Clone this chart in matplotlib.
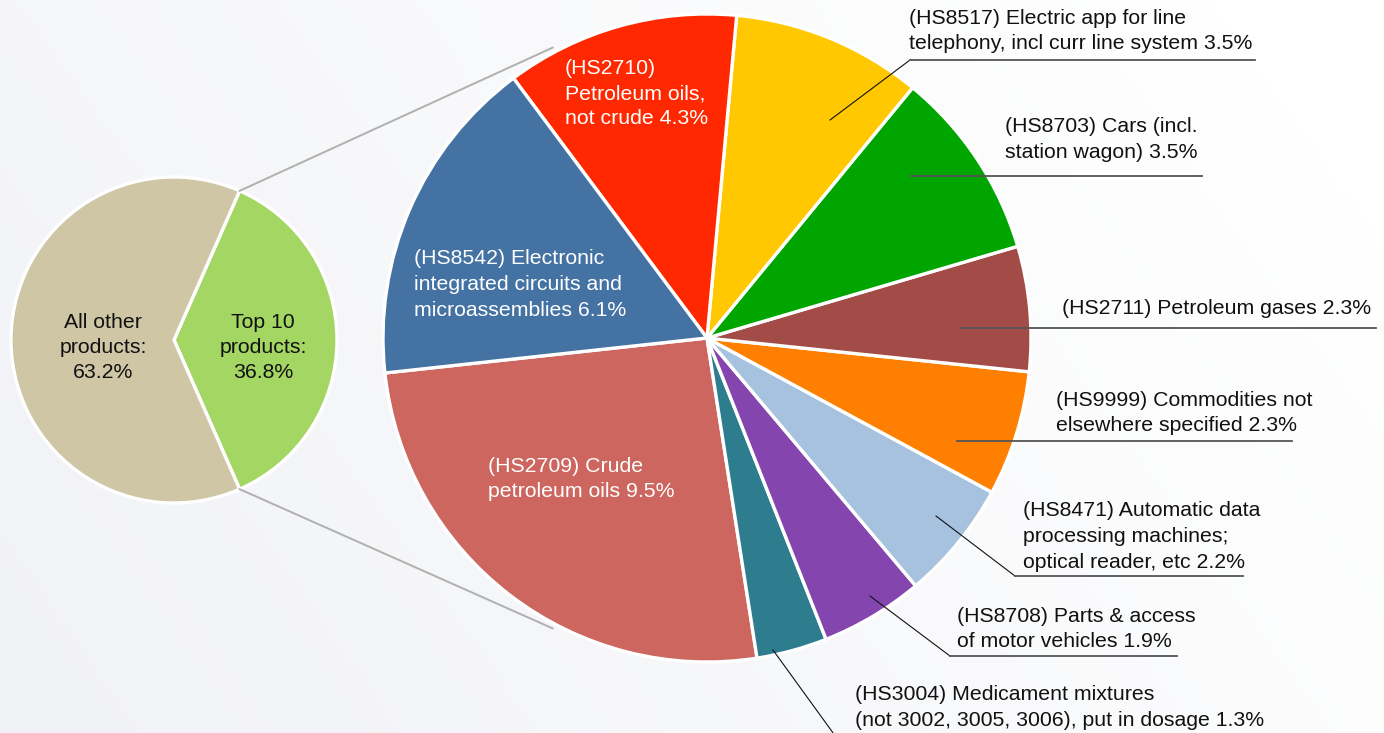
import numpy as np
import matplotlib
matplotlib.use("Agg")
import matplotlib.pyplot as plt
from matplotlib.colors import to_rgb

plt.rcParams["font.family"] = ["Liberation Sans", "DejaVu Sans"]

# --- data ---
split_labels = ["Top 10\nproducts:\n36.8%", "All other\nproducts:\n63.2%"]
split_values = [36.8, 63.2]
split_colors = ["#a3d663", "#cfc6a6"]

codes = ["HS2709", "HS3004", "HS8708", "HS8471", "HS9999",
         "HS2711", "HS8703", "HS8517", "HS2710", "HS8542"]
names = [
    "Crude\npetroleum oils",
    "Medicament mixtures\n(not 3002, 3005, 3006), put in dosage",
    "Parts & access\nof motor vehicles",
    "Automatic data\nprocessing machines;\noptical reader, etc",
    "Commodities not\nelsewhere specified",
    "Petroleum gases",
    "Cars (incl.\nstation wagon)",
    "Electric app for line\ntelephony, incl curr line system",
    "\nPetroleum oils,\nnot crude",
    "Electronic\nintegrated circuits and\nmicroassemblies",
]
shares = [9.5, 1.3, 1.9, 2.2, 2.3, 2.3, 3.5, 3.5, 4.3, 6.1]
colors = ["#cc665f", "#2e7d8f", "#8446ae", "#a7c2df", "#ff7f00",
          "#a34b47", "#00a500", "#ffc800", "#ff2800", "#4472a3"]

W, H = 1384, 733
FS = 15.3
PITCH = 25.5

# label layout in image pixels (y down)
inside_pos = {"HS2709": (488, 466), "HS2710": (565, 68), "HS8542": (414, 259)}
outside_pos = {
    # code: (text x, first line y, underline y, underline x0, underline x1, anchor)
    "HS8517": (909, 18, 60, 910, 1255, (830, 120)),
    "HS8703": (1005, 127, 176, 911, 1202, (911, 176)),
    "HS2711": (1062, 309, 328, 960, 1376, (960, 328)),
    "HS9999": (1056, 400, 441, 957, 1292, (957, 441)),
    "HS8471": (1023, 511, 576, 1015, 1243, (936, 516)),
    "HS8708": (957, 616, 656, 950, 1177, (870, 596)),
    "HS3004": (855, 695, 737, 836, 1280, (773, 650)),
}


def yy(y):
    return H - y


def put_lines(ax, text, x, y0, color, ha="left"):
    for i, line in enumerate(text.split("\n")):
        ax.text(x, yy(y0 + i * PITCH), line, ha=ha, va="center",
                fontsize=FS, color=color, zorder=5)


def label_text(code, name, share):
    if name.startswith("\n"):
        return f"({code}){name} {share}%"
    return f"({code}) {name} {share}%"


fig = plt.figure(figsize=(W / 100, H / 100), dpi=100)
ax = fig.add_axes([0, 0, 1, 1])

# background gradient
gx, gy = np.meshgrid(np.linspace(0, 1, 200), np.linspace(0, 1, 100))
t = np.clip(0.8 * gx + 0.3 * gy, 0, 1)[..., None]
c0, c1 = np.array(to_rgb("#f1f2f6")), np.array(to_rgb("#ffffff"))
ax.imshow(c0 + (c1 - c0) * t, extent=(0, W, 0, H), origin="lower",
          aspect="auto", zorder=0)

# small pie
small_c, small_r = (174, yy(340)), 163
half = split_values[0] / sum(split_values) * 180
ax.pie(split_values, colors=split_colors, center=small_c, radius=small_r,
       startangle=-half, wedgeprops=dict(edgecolor="white", linewidth=2.4))
for txt, x in zip(split_labels, [263, 103]):
    put_lines(ax, txt, x, 322, "#111111", ha="center")

# big pie
big_c, big_r = (707, yy(338)), 324
ax.pie(shares, colors=colors, center=big_c, radius=big_r, startangle=186.2,
       wedgeprops=dict(edgecolor="white", linewidth=2.4))

# connecting lines
for a_small, a_big in [(half, 118), (-half, 242)]:
    p0 = (small_c[0] + small_r * np.cos(np.radians(a_small)),
          small_c[1] + small_r * np.sin(np.radians(a_small)))
    p1 = (big_c[0] + 1.015 * big_r * np.cos(np.radians(a_big)),
          big_c[1] + 1.015 * big_r * np.sin(np.radians(a_big)))
    ax.plot([p0[0], p1[0]], [p0[1], p1[1]], color="#b0b0b0", lw=1.4, zorder=1)

# labels
for code, name, share in zip(codes, names, shares):
    txt = label_text(code, name, share)
    if code in inside_pos:
        x, y0 = inside_pos[code]
        put_lines(ax, txt, x, y0, "white")
    else:
        tx, ty, uy, ux0, ux1, (axx, ayy) = outside_pos[code]
        put_lines(ax, txt, tx, ty, "#111111")
        ax.plot([axx, ux0], [yy(ayy), yy(uy)], color="#111111", lw=0.8, zorder=4)
        ax.plot([ux0, ux1], [yy(uy), yy(uy)], color="#555555", lw=1.3, zorder=4)

ax.set_xlim(0, W)
ax.set_ylim(0, H)
ax.set_aspect("equal")
ax.axis("off")

fig.savefig("out.png", dpi=100)
